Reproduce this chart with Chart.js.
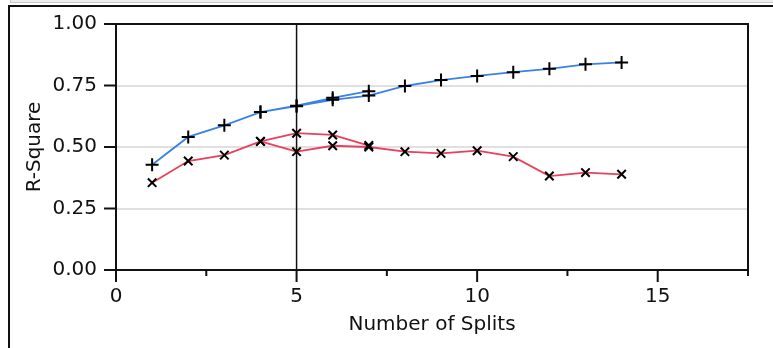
<!DOCTYPE html>
<html>
<head>
<meta charset="utf-8">
<script src="https://cdn.jsdelivr.net/npm/chart.js@4/dist/chart.umd.min.js"></script>
<style>
  html, body { margin: 0; padding: 0; background: #fff; }
  #wrap { position: relative; width: 773px; height: 348px; overflow: hidden; }
  #grayTop { position: absolute; left: 10px; top: -2px; right: -2px; height: 3px; background: #eeeeee; border: 1px solid #c9c9c9; }
  #blackFrame { position: absolute; left: 8px; top: 5px; right: -10px; bottom: -10px; border-top: 2px solid #111; border-left: 2px solid #111; }
  canvas { position: absolute; left: 0; top: 0; }
</style>
</head>
<body>
<div id="wrap">
  <div id="grayTop"></div>
  <div id="blackFrame"></div>
  <canvas id="c" width="773" height="348"></canvas>
</div>
<script>
// First pass of splitting (1..7), then pruned back to 4 and re-split (4..14)
const passOneSplits = [1, 2, 3, 4, 5, 6, 7];
const passOneTraining = [0.428, 0.541, 0.588, 0.642, 0.668, 0.700, 0.727];
const passOneValidation = [0.355, 0.443, 0.467, 0.523, 0.556, 0.549, 0.506];

const passTwoSplits = [4, 5, 6, 7, 8, 9, 10, 11, 12, 13, 14];
const passTwoTraining = [0.642, 0.666, 0.692, 0.709, 0.748, 0.772, 0.789, 0.804, 0.818, 0.836, 0.844];
const passTwoValidation = [0.523, 0.481, 0.505, 0.500, 0.481, 0.474, 0.485, 0.461, 0.382, 0.396, 0.389];

const xTickValues = [0, 5, 10, 15];
const xMinorTickValues = [2.5, 7.5, 12.5, 17.5];
const yTickValues = [0, 0.25, 0.5, 0.75, 1];
const selectedSplits = 5;

function buildPoints(xs1, ys1, xs2, ys2) {
  const pts = xs1.map((x, i) => ({ x: x, y: ys1[i] }));
  pts.push({ x: null, y: null });
  xs2.forEach((x, i) => pts.push({ x: x, y: ys2[i] }));
  return pts;
}

const FONT = { family: "'DejaVu Sans', sans-serif", size: 20 };

const framePlugin = {
  id: 'framePlugin',
  beforeDatasetsDraw(chart) {
    const { ctx, chartArea: a, scales: { x, y } } = chart;
    ctx.save();
    ctx.strokeStyle = '#111';
    ctx.lineWidth = 1.5;
    const vx = x.getPixelForValue(selectedSplits);
    ctx.beginPath();
    ctx.moveTo(vx, a.top);
    ctx.lineTo(vx, a.bottom);
    ctx.stroke();
    ctx.lineWidth = 2;
    ctx.strokeRect(a.left, a.top, a.right - a.left, a.bottom - a.top);
    ctx.beginPath();
    xTickValues.forEach(v => {
      const px = x.getPixelForValue(v);
      ctx.moveTo(px, a.bottom);
      ctx.lineTo(px, a.bottom + 12);
    });
    xMinorTickValues.forEach(v => {
      const px = x.getPixelForValue(v);
      ctx.moveTo(px, a.bottom);
      ctx.lineTo(px, a.bottom + 6);
    });
    yTickValues.forEach(v => {
      const py = y.getPixelForValue(v);
      ctx.moveTo(a.left, py);
      ctx.lineTo(a.left - 12, py);
    });
    ctx.stroke();
    ctx.restore();
  }
};

new Chart(document.getElementById('c'), {
  type: 'scatter',
  data: {
    datasets: [
      {
        label: 'Training',
        data: buildPoints(passOneSplits, passOneTraining, passTwoSplits, passTwoTraining),
        showLine: true,
        spanGaps: false,
        borderColor: '#3a82e4',
        borderWidth: 1.8,
        pointStyle: 'cross',
        pointRadius: 6.5,
        pointBorderColor: '#000',
        pointBorderWidth: 2,
        pointBackgroundColor: '#000'
      },
      {
        label: 'Validation',
        data: buildPoints(passOneSplits, passOneValidation, passTwoSplits, passTwoValidation),
        showLine: true,
        spanGaps: false,
        borderColor: '#e9405c',
        borderWidth: 1.8,
        pointStyle: 'crossRot',
        pointRadius: 6,
        pointBorderColor: '#000',
        pointBorderWidth: 2,
        pointBackgroundColor: '#000'
      }
    ]
  },
  options: {
    responsive: false,
    animation: false,
    events: [],
    layout: { padding: { left: 0, top: 24, right: 25, bottom: 0 } },
    plugins: { legend: { display: false }, tooltip: { enabled: false } },
    scales: {
      x: {
        type: 'linear',
        min: 0,
        max: 17.5,
        border: { display: false },
        grid: { display: false, drawTicks: false },
        ticks: {
          stepSize: 2.5,
          autoSkip: false,
          maxRotation: 0,
          padding: 15,
          color: '#111',
          font: FONT,
          callback: (v) => (xTickValues.includes(v) ? String(v) : '')
        },
        title: {
          display: true,
          text: 'Number of Splits',
          color: '#111',
          font: FONT,
          padding: { top: 0, bottom: 11 }
        },
        afterFit: (s) => { s.height = 78; }
      },
      y: {
        type: 'linear',
        min: 0,
        max: 1,
        border: { display: false },
        grid: {
          drawTicks: true,
          tickLength: 12,
          tickColor: 'rgba(0,0,0,0)',
          lineWidth: 2,
          color: (c) => ([0.25, 0.5, 0.75].includes(c.tick && c.tick.value) ? '#e0e0e0' : 'rgba(0,0,0,0)')
        },
        ticks: {
          stepSize: 0.25,
          padding: 7,
          color: '#111',
          font: FONT,
          callback: (v) => v.toFixed(2)
        },
        title: {
          display: true,
          text: 'R-Square',
          color: '#111',
          font: FONT,
          padding: { top: 23, bottom: 0 }
        },
        afterFit: (s) => { s.width = 116; }
      }
    }
  },
  plugins: [framePlugin]
});
</script>
</body>
</html>
